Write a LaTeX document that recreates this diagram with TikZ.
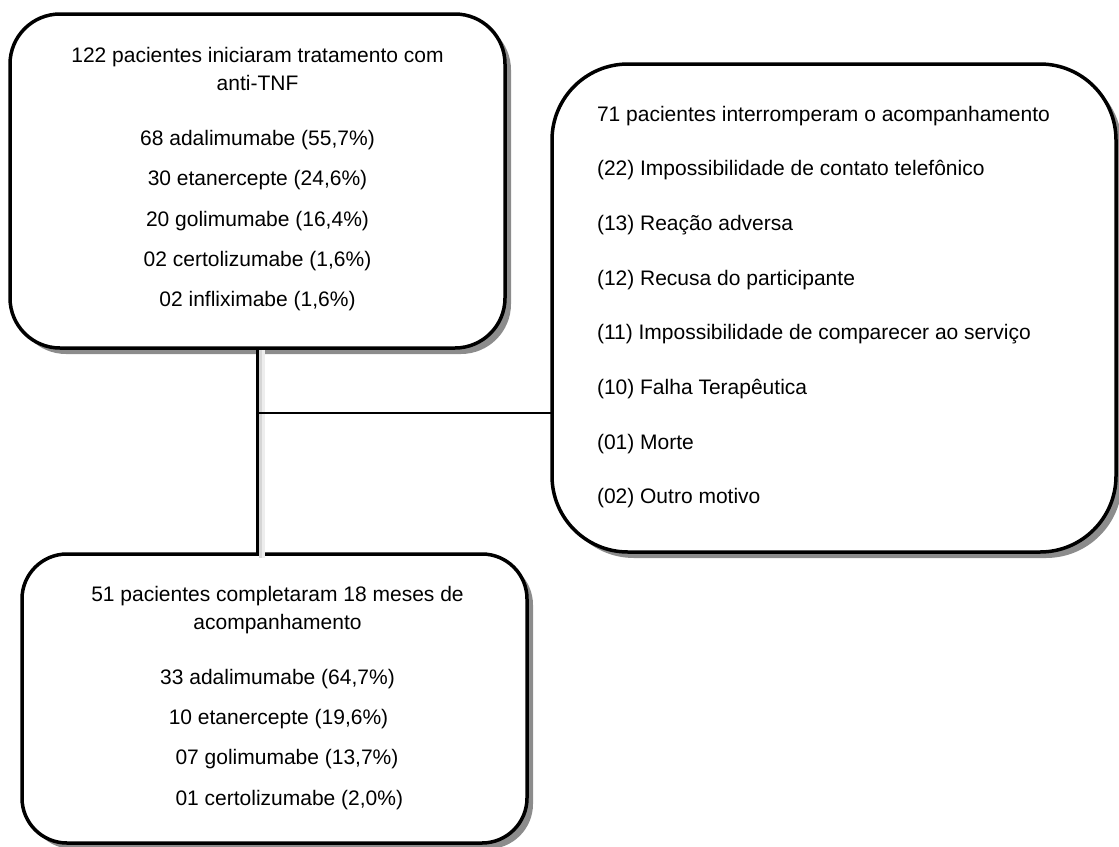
\documentclass[tikz,border=0pt]{standalone}
\usepackage{fontspec}
\setmainfont{Liberation Sans}
\usetikzlibrary{shadows}
\tikzset{
  box/.style={draw=black, line width=3.5pt, fill=white, outer sep=0pt, inner sep=0pt,
    drop shadow={shadow xshift=6pt, shadow yshift=-6pt, fill=black!45, opacity=1}},
  txt/.style={inner sep=0pt, outer sep=0pt, anchor=base, font=\fontsize{21pt}{25pt}\selectfont},
  txtl/.style={txt, anchor=base west},
  thickline/.style={draw=black, line width=3.2pt},
  thinline/.style={draw=black, line width=2.3pt},
  softshadowa/.style={draw=black!16, line width=3pt},
  softshadowb/.style={draw=black!7, line width=3pt}
}
\begin{document}
\begin{tikzpicture}[x=1pt,y=-1pt]
\useasboundingbox (0,0) rectangle (1119,846);
% boxes
\node[box, rounded corners=50pt, minimum width=495pt, minimum height=334pt] (b1) at (257.5,181) {};
\node[box, rounded corners=76pt, minimum width=564pt, minimum height=488pt] (b2) at (834,308) {};
\node[box, rounded corners=45pt, minimum width=505pt, minimum height=289pt] (b3) at (274.5,698.5) {};
% connectors
\coordinate (j) at (257.3,412.7);
\coordinate (vtop) at (257.3,350);
\coordinate (vbot) at (257.3,554);
\draw[softshadowb] ([xshift=6.5pt]vtop) -- ([xshift=6.5pt,yshift=-4pt]vbot);
\draw[softshadowa] ([xshift=3.5pt]vtop) -- ([xshift=3.5pt,yshift=-4pt]vbot);
\draw[thickline] (vtop) -- (vbot);
\draw[thinline] (j) -- (j -| b2.west);
% box 1 text
\node[txt] (t11) at (257.5,62.3) {122 pacientes iniciaram tratamento com};
\node[txt] (t12) at (257.5,90) {anti-TNF};
\node[txt] (t13) at (257.5,145.7) {68 adalimumabe (55,7\%)};
\node[txt] (t14) at (257.5,185.8) {30 etanercepte (24,6\%)};
\node[txt] (t15) at (257.5,226) {20 golimumabe (16,4\%)};
\node[txt] (t16) at (257.5,266.2) {02 certolizumabe (1,6\%)};
\node[txt] (t17) at (257.5,306.5) {02 infliximabe (1,6\%)};
% box 2 text
\node[txtl] (t21) at (597,121) {71 pacientes interromperam o acompanhamento};
\node[txtl] (t22) at (597,175.7) {(22) Impossibilidade de contato telefônico};
\node[txtl] (t23) at (597,230.4) {(13) Reação adversa};
\node[txtl] (t24) at (597,285.1) {(12) Recusa do participante};
\node[txtl] (t25) at (597,339.8) {(11) Impossibilidade de comparecer ao serviço};
\node[txtl] (t26) at (597,394.5) {(10) Falha Terapêutica};
\node[txtl] (t27) at (597,449.2) {(01) Morte};
\node[txtl] (t28) at (597,503.9) {(02) Outro motivo};
% box 3 text
\node[txt] (t31) at (277.5,601.7) {51 pacientes completaram 18 meses de};
\node[txt] (t32) at (277.5,629.5) {acompanhamento};
\node[txt] (t33) at (277.5,684.3) {33 adalimumabe (64,7\%)};
\node[txt] (t34) at (278.5,724.5) {10 etanercepte (19,6\%)};
\node[txtl] (t35) at (175.5,764.8) {07 golimumabe (13,7\%)};
\node[txtl] (t36) at (175.5,805) {01 certolizumabe (2,0\%)};
\end{tikzpicture}
\end{document}
